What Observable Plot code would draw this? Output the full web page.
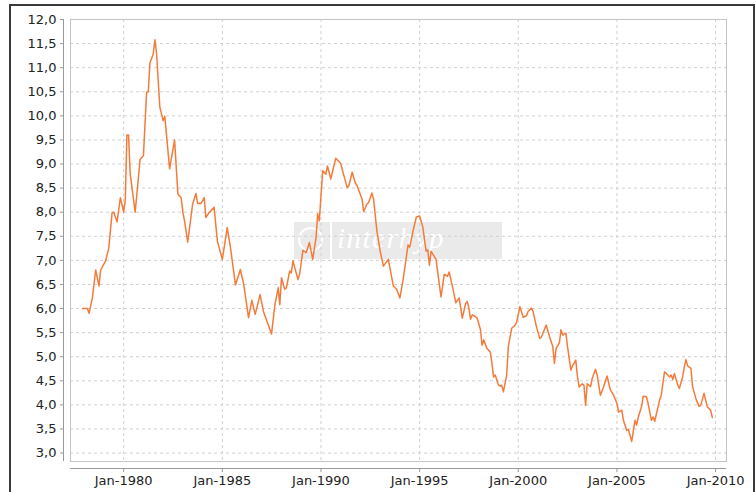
<!DOCTYPE html>
<html><head><meta charset="utf-8">
<script src="https://cdn.jsdelivr.net/npm/d3@7"></script>
<script src="https://cdn.jsdelivr.net/npm/@observablehq/plot@0.6"></script>
<style>
html,body{margin:0;padding:0;background:#fff;}
#wrap{position:relative;width:756px;height:492px;overflow:hidden;font-family:"DejaVu Sans",sans-serif;}
#border{position:absolute;left:9px;top:4px;width:746px;height:600px;border:2px solid #3a3a3a;box-sizing:border-box;}
#wm{position:absolute;left:294px;top:222px;width:208px;height:37px;background:#eaeaea;}
#wm .logo{position:absolute;left:4px;top:5px;width:21px;height:21px;border:2px solid #fff;border-radius:50%;}
#wm .sep{position:absolute;left:36px;top:0;width:2px;height:37px;background:#fff;}
#wm .wt{position:absolute;left:43px;top:0;height:37px;line-height:33px;font:italic 29px/33px "Liberation Serif",serif;letter-spacing:1.5px;color:#fff;white-space:nowrap;}
#chart{position:absolute;left:0;top:0;}
</style>
</head><body>
<div id="wrap">
  <div id="border"></div>
  <div id="wm"><span class="logo"></span><span class="sep"></span><span class="wt">interhyp</span></div>
  <div id="chart"></div>
</div>
<script>
// Monthly values (key vertices)
const months = [
"1977-12","1978-03","1978-04","1978-06","1978-08","1978-10","1978-11","1979-02","1979-04","1979-06",
"1979-07","1979-09","1979-11","1980-01","1980-02","1980-03","1980-04","1980-05","1980-08","1980-11",
"1981-01","1981-03","1981-04","1981-05","1981-07","1981-08","1981-09","1981-11","1982-01","1982-02",
"1982-05","1982-08","1982-10","1982-12","1983-01","1983-02","1983-04","1983-07","1983-09","1983-10",
"1983-12","1984-02","1984-03","1984-05","1984-08","1984-10","1985-01","1985-04","1985-06","1985-09",
"1985-12","1986-02","1986-05","1986-07","1986-09","1986-12","1987-02","1987-07","1987-09","1987-11",
"1987-12","1988-01","1988-03","1988-04","1988-06","1988-07","1988-08","1988-11","1988-12","1989-02",
"1989-04","1989-06","1989-08","1989-10","1989-11","1989-12","1990-02","1990-04","1990-05","1990-07",
"1990-10","1991-01","1991-03","1991-05","1991-06","1991-08","1991-10","1991-11","1992-02","1992-03",
"1992-05","1992-06","1992-08","1992-09","1992-11","1993-01","1993-03","1993-06","1993-09","1993-11",
"1994-01","1994-03","1994-06","1994-07","1994-09","1994-11","1995-01","1995-03","1995-05","1995-06",
"1995-07","1995-08","1995-11","1996-02","1996-04","1996-06","1996-07","1996-09","1996-11","1997-01",
"1997-03","1997-05","1997-06","1997-07","1997-08","1997-09","1997-11","1997-12","1998-02","1998-03",
"1998-04","1998-06","1998-08","1998-09","1998-10","1998-11","1999-01","1999-02","1999-03","1999-04",
"1999-06","1999-07","1999-09","1999-11","1999-12","2000-02","2000-04","2000-06","2000-07","2000-09",
"2000-10","2000-12","2001-02","2001-03","2001-06","2001-08","2001-10","2001-11","2001-12","2002-02",
"2002-03","2002-04","2002-06","2002-07","2002-09","2002-10","2002-12","2003-01","2003-02","2003-04",
"2003-05","2003-06","2003-07","2003-09","2003-10","2003-12","2004-01","2004-03","2004-05","2004-07",
"2004-09","2004-11","2005-01","2005-02","2005-04","2005-05","2005-07","2005-08","2005-10","2005-12",
"2006-01","2006-02","2006-04","2006-05","2006-07","2006-08","2006-10","2006-11","2006-12","2007-02",
"2007-03","2007-04","2007-06","2007-08","2007-09","2007-10","2007-11","2007-12","2008-02","2008-03",
"2008-05","2008-06","2008-07","2008-08","2008-10","2008-11","2009-01","2009-03","2009-04","2009-06",
"2009-07","2009-08","2009-10","2009-11"
];
const rates = [
6.00,6.00,5.90,6.22,6.80,6.47,6.80,6.99,7.26,7.99,
8.00,7.80,8.30,8.00,8.26,9.60,9.60,8.80,8.00,9.10,
9.17,10.49,10.50,11.10,11.28,11.58,11.30,10.18,9.90,9.99,
8.90,9.50,8.38,8.30,8.00,7.82,7.38,8.17,8.39,8.18,
8.18,8.30,7.89,7.99,8.10,7.40,7.02,7.68,7.26,6.49,
6.81,6.50,5.81,6.17,5.88,6.29,5.94,5.47,6.08,6.43,
6.08,6.64,6.40,6.43,6.78,6.74,6.99,6.60,6.71,7.21,
7.16,7.37,7.02,7.47,7.97,7.82,8.86,8.79,8.96,8.69,
9.12,9.01,8.76,8.51,8.55,8.83,8.60,8.55,8.27,8.01,
8.17,8.20,8.40,8.27,7.61,7.19,6.88,7.02,6.47,6.40,
6.22,6.60,7.32,7.27,7.61,7.90,7.92,7.69,7.19,7.22,
6.90,7.19,7.02,6.24,6.71,6.67,6.76,6.45,6.12,6.22,
5.80,6.10,6.15,6.01,5.78,5.87,5.83,5.80,5.56,5.24,
5.35,5.17,5.10,4.86,4.58,4.62,4.41,4.39,4.41,4.27,
4.62,5.21,5.59,5.65,5.71,6.04,5.82,5.85,5.94,6.01,
5.94,5.63,5.38,5.40,5.66,5.42,5.21,4.86,5.17,5.29,
5.56,5.45,5.49,5.21,4.72,4.81,4.93,4.58,4.37,4.44,
4.41,3.99,4.44,4.38,4.55,4.74,4.62,4.20,4.38,4.60,
4.31,4.20,4.03,3.85,3.89,3.68,3.47,3.49,3.24,3.68,
3.58,3.75,3.96,4.18,4.17,4.03,3.68,3.75,3.66,3.96,
4.10,4.20,4.69,4.62,4.58,4.62,4.53,4.65,4.41,4.34,
4.58,4.79,4.94,4.81,4.76,4.38,4.13,3.97,3.99,4.24,
4.10,3.96,3.89,3.74
];
const tickYears = [1980, 1985, 1990, 1995, 2000, 2005, 2010];
const yTicks = [3,3.5,4,4.5,5,5.5,6,6.5,7,7.5,8,8.5,9,9.5,10,10.5,11,11.5,12];
const xStart = new Date(Date.UTC(1977, 3, 22));
const xEnd = new Date(Date.UTC(2010, 6, 22));
const yMin = 2.825, yMax = 12;

const parse = d3.utcParse("%Y-%m");
const data = months.map((m, i) => ({date: parse(m), rate: rates[i]}));
const xTicks = tickYears.map(y => new Date(Date.UTC(y, 0, 1)));
const fmtY = v => d3.format(".1f")(v).replace(".", ",");

const chart = Plot.plot({
  width: 756, height: 492,
  marginLeft: 70, marginRight: 30, marginTop: 19, marginBottom: 31,
  style: {background: "transparent", fontFamily: "'DejaVu Sans', sans-serif", fontSize: "13px", color: "#222"},
  x: {type: "utc", domain: [xStart, xEnd]},
  y: {domain: [yMin, yMax]},
  marks: [
    Plot.gridX(xTicks, {stroke: "#d0d0d0", strokeOpacity: 1, strokeDasharray: "3,3"}),
    Plot.gridY(yTicks, {stroke: "#d0d0d0", strokeOpacity: 1, strokeDasharray: "3,3"}),
    Plot.frame({stroke: "#c4c4c4"}),
    Plot.ruleX([xStart], {dx: -7, stroke: "#999"}),
    Plot.ruleY([yMin], {dy: 7, stroke: "#999"}),
    Plot.axisY(yTicks, {tickSize: 3, dx: -7, tickPadding: 4, tickFormat: fmtY, label: null, stroke: "#999", fill: "#222", fontSize: 13}),
    Plot.axisX(xTicks, {tickSize: 4, dy: 7, tickPadding: 3, tickFormat: d => "Jan-" + d.getUTCFullYear(), label: null, stroke: "#999", fill: "#222", fontSize: 13, style: {letterSpacing: "0.5px"}}),
    Plot.line(data, {x: "date", y: "rate", stroke: "#f47b3a", strokeWidth: 1.5})
  ]
});
document.getElementById("chart").appendChild(chart);
</script>
</body></html>
